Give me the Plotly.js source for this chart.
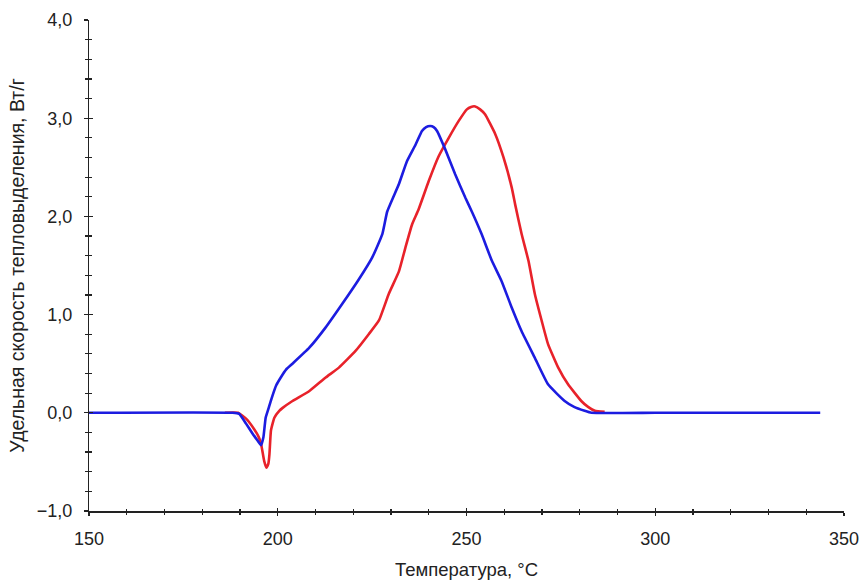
<!DOCTYPE html>
<html>
<head>
<meta charset="utf-8">
<script src="https://cdn.plot.ly/plotly-3.0.1.min.js"></script>
<style>html,body{margin:0;padding:0;background:#fff;}#chart{width:860px;height:584px;}</style>
</head>
<body>
<div id="chart"></div>
<script>
const blueT = [150, 188, 189.8, 191.6, 193.3, 194.6, 195.6, 196.2, 196.8, 197.6, 198.4, 199.6, 200.8, 202.2, 203.9, 208.3, 212.7, 217.1, 221.5, 225.0, 227.7, 229.0, 232.1, 234.2, 236.5, 238.2, 239.3, 240.4, 241.3, 242.2, 244.4, 247.0, 249.7, 251.4, 254.0, 256.7, 259.3, 262.0, 264.6, 268.1, 271.6, 276.0, 278.5, 281.3, 283.1, 300, 320, 343.7];
const blueV = [0, 0, -0.01, -0.11, -0.21, -0.28, -0.33, -0.25, -0.05, 0.05, 0.15, 0.28, 0.36, 0.44, 0.50, 0.66, 0.87, 1.11, 1.36, 1.58, 1.82, 2.05, 2.33, 2.56, 2.73, 2.87, 2.91, 2.92, 2.91, 2.87, 2.68, 2.43, 2.19, 2.05, 1.82, 1.55, 1.34, 1.07, 0.83, 0.56, 0.29, 0.12, 0.06, 0.02, 0, 0, 0, 0];

const redT = [186, 189.5, 191.6, 193.8, 195.0, 195.6, 196.4, 197.0, 197.5, 197.8, 198.2, 199.1, 200.4, 201.3, 203.9, 208.3, 212.7, 216.2, 220.6, 224.1, 226.8, 229.4, 232.1, 233.8, 235.6, 237.3, 240.0, 242.6, 245.3, 247.9, 250.1, 251.2, 252.3, 253.6, 254.9, 257.6, 259.8, 262.0, 262.9, 264.6, 266.4, 268.1, 269.9, 271.6, 274.3, 276.9, 280.4, 282.2, 284.0, 286.6];
const redV = [0, 0, -0.06, -0.17, -0.25, -0.32, -0.49, -0.56, -0.52, -0.42, -0.18, -0.05, 0.02, 0.05, 0.12, 0.22, 0.36, 0.46, 0.63, 0.80, 0.94, 1.21, 1.44, 1.68, 1.92, 2.07, 2.36, 2.61, 2.80, 2.97, 3.09, 3.115, 3.12, 3.09, 3.04, 2.84, 2.60, 2.29, 2.12, 1.82, 1.55, 1.21, 0.94, 0.70, 0.46, 0.29, 0.12, 0.06, 0.02, 0.01];

const xTitle = "Температура, °C";
const yTitle = "\u00a0\u00a0\u00a0\u00a0Удельная скорость тепловыделения, Вт/г";
const xRange = [150, 350];
const yRange = [-1, 4];

const fontFam = "Liberation Sans, Arial, sans-serif";
const narrowFam = "Liberation Sans Narrow, Arial Narrow, Liberation Sans, sans-serif";
const axColor = "#222";

const traces = [
  {x: redT, y: redV, type: "scatter", mode: "lines", line: {color: "#e8222a", width: 2.6, shape: "spline", smoothing: 0.4}, hoverinfo: "skip"},
  {x: blueT, y: blueV, type: "scatter", mode: "lines", line: {color: "#1c1ce0", width: 2.6, shape: "spline", smoothing: 0.4}, hoverinfo: "skip"},
  {x: [], y: [], type: "scatter", mode: "lines", xaxis: "x2", yaxis: "y2", showlegend: false, hoverinfo: "skip"}
];

const baseX = {
  range: xRange, dtick: 50, tick0: 150, showgrid: false, zeroline: false,
  ticklen: 3.5, tickwidth: 1.3, tickcolor: axColor,
  minor: {dtick: 10, tick0: 150, ticklen: 2.5, tickwidth: 1.2, tickcolor: axColor, showgrid: false}
};
const baseY = {
  range: yRange, dtick: 1, tick0: 0, showgrid: false, zeroline: false,
  ticklen: 3.5, tickwidth: 1.3, tickcolor: axColor,
  minor: {dtick: 0.2, tick0: 0, ticklen: 2.5, tickwidth: 1.2, tickcolor: axColor, showgrid: false}
};

const layout = {
  width: 860, height: 584,
  margin: {l: 89, r: 16, t: 20, b: 73, pad: 0},
  paper_bgcolor: "#fff", plot_bgcolor: "#fff",
  showlegend: false,
  separators: ", ",
  font: {family: fontFam, size: 18, color: axColor},
  xaxis: Object.assign({}, baseX, {
    showline: true, linecolor: axColor, linewidth: 1.5,
    ticks: "outside", minor: Object.assign({}, baseX.minor, {ticks: "outside"}),
    tickfont: {family: fontFam, size: 18, color: axColor},
    ticklabelstandoff: 7,
    ticklabeloverflow: "allow",
    title: {text: xTitle, font: {family: narrowFam, size: 18.5, color: axColor}, standoff: 15}
  }),
  yaxis: Object.assign({}, baseY, {
    showline: true, linecolor: axColor, linewidth: 1.5,
    ticks: "outside", minor: Object.assign({}, baseY.minor, {ticks: "outside"}),
    tickformat: ".1f",
    tickfont: {family: fontFam, size: 18, color: axColor},
    ticklabelstandoff: 8,
    ticklabeloverflow: "allow",
    title: {text: yTitle, font: {family: fontFam, size: 19.5, color: axColor}, standoff: 7}
  }),
  xaxis2: Object.assign({}, baseX, {
    overlaying: "x", anchor: "y2", side: "bottom", showline: false,
    ticks: "inside", showticklabels: false,
    minor: Object.assign({}, baseX.minor, {ticks: "inside"})
  }),
  yaxis2: Object.assign({}, baseY, {
    overlaying: "y", anchor: "x2", side: "left", showline: false,
    ticks: "inside", showticklabels: false,
    minor: Object.assign({}, baseY.minor, {ticks: "inside"})
  })
};

Plotly.newPlot("chart", traces, layout, {staticPlot: true, displayModeBar: false});
</script>
</body>
</html>
